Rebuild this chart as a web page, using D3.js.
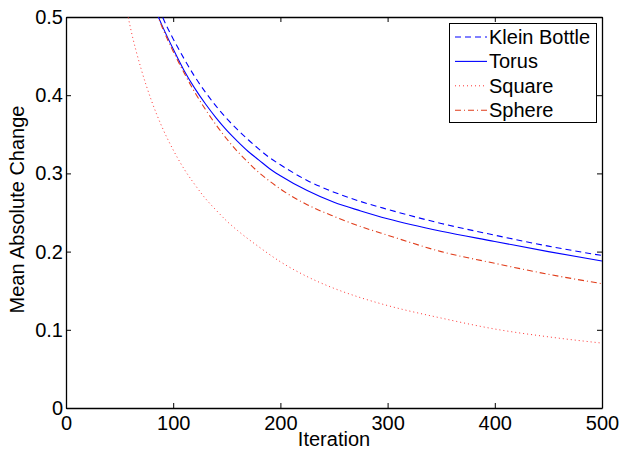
<!DOCTYPE html>
<html>
<head>
<meta charset="utf-8">
<script src="https://cdn.jsdelivr.net/npm/d3@7/dist/d3.min.js"></script>
<style>
  html, body { margin: 0; padding: 0; background: #fff; }
  svg { display: block; }
  text { font-family: "Liberation Sans", Arial, sans-serif; }
</style>
</head>
<body>
<svg id="chart" width="621" height="450"></svg>
<script>
// ---- Data ----
const kleinIter  = [80, 90, 100, 110, 120, 130, 140, 150, 160, 170, 180, 190, 200, 225, 250, 275, 300, 350, 400, 450, 500];
const kleinVal   = [0.535, 0.5, 0.472, 0.447, 0.424, 0.404, 0.386, 0.37, 0.356, 0.343, 0.331, 0.32, 0.311, 0.291, 0.276, 0.264, 0.254, 0.236, 0.221, 0.207, 0.195];

const torusIter  = [80, 90, 100, 110, 120, 130, 140, 150, 160, 170, 180, 190, 200, 225, 250, 275, 300, 350, 400, 450, 500];
const torusVal   = [0.52, 0.488, 0.459, 0.432, 0.409, 0.389, 0.371, 0.355, 0.341, 0.328, 0.317, 0.306, 0.297, 0.278, 0.263, 0.252, 0.242, 0.226, 0.213, 0.2, 0.188];

const squareIter = [50, 60, 70, 80, 90, 100, 110, 120, 130, 140, 150, 160, 180, 200, 225, 250, 275, 300, 350, 400, 450, 500];
const squareVal  = [0.56, 0.487, 0.434, 0.392, 0.358, 0.33, 0.306, 0.286, 0.268, 0.253, 0.239, 0.227, 0.206, 0.187, 0.168, 0.153, 0.141, 0.131, 0.115, 0.101, 0.091, 0.083];

const sphereIter = [80, 90, 100, 110, 120, 130, 140, 150, 160, 170, 180, 190, 200, 225, 250, 275, 300, 350, 400, 450, 500];
const sphereVal  = [0.523, 0.486, 0.456, 0.429, 0.404, 0.382, 0.362, 0.344, 0.328, 0.314, 0.301, 0.29, 0.28, 0.26, 0.245, 0.232, 0.221, 0.2, 0.185, 0.171, 0.159];

const seriesNames = ["Klein Bottle", "Torus", "Square", "Sphere"];
const xTicks = [0, 100, 200, 300, 400, 500];
const xTickLabels = ["0", "100", "200", "300", "400", "500"];
const yTicks = [0, 0.1, 0.2, 0.3, 0.4, 0.5];
const yTickLabels = ["0", "0.1", "0.2", "0.3", "0.4", "0.5"];
const xLabel = "Iteration";
const yLabel = "Mean Absolute Change";

// ---- Styles ----
const styles = [
  { color: "#0000ff", dash: "6,4",       width: 1.1 },
  { color: "#0000ff", dash: null,        width: 1.1 },
  { color: "#ff3333", dash: "1,3",       width: 1.0 },
  { color: "#e03c1a", dash: "6,3,1,3",   width: 1.1 }
];

const seriesData = [
  kleinIter.map((d, i) => [d, kleinVal[i]]),
  torusIter.map((d, i) => [d, torusVal[i]]),
  squareIter.map((d, i) => [d, squareVal[i]]),
  sphereIter.map((d, i) => [d, sphereVal[i]])
];

const svg = d3.select("#chart");
const L = 66, R = 602, T = 17, B = 408;
const x = d3.scaleLinear().domain([0, 500]).range([L, R]);
const y = d3.scaleLinear().domain([0, 0.5]).range([B, T]);
const FS = "20px";

svg.append("defs").append("clipPath").attr("id", "clip")
  .append("rect").attr("x", L).attr("y", T).attr("width", R - L).attr("height", B - T);

// Axes
const axB = svg.append("g").attr("transform", `translate(0,${B})`)
  .call(d3.axisBottom(x).tickValues(xTicks).tickFormat((d, i) => xTickLabels[i])
    .tickSizeInner(-5).tickSizeOuter(0).tickPadding(8));
const axT = svg.append("g").attr("transform", `translate(0,${T})`)
  .call(d3.axisTop(x).tickValues(xTicks).tickFormat("").tickSizeInner(-5).tickSizeOuter(0));
const axLft = svg.append("g").attr("transform", `translate(${L},0)`)
  .call(d3.axisLeft(y).tickValues(yTicks).tickFormat((d, i) => yTickLabels[i])
    .tickSizeInner(-5).tickSizeOuter(0).tickPadding(3));
const axRt = svg.append("g").attr("transform", `translate(${R},0)`)
  .call(d3.axisRight(y).tickValues(yTicks).tickFormat("").tickSizeInner(-5).tickSizeOuter(0));

[axB, axT, axLft, axRt].forEach(g => {
  g.selectAll("path.domain").attr("stroke", "#000").attr("stroke-width", 1.3);
  g.selectAll(".tick line").attr("stroke", "#000").attr("stroke-width", 1);
  g.selectAll("text").attr("fill", "#000").style("font-size", FS)
    .style("font-family", '"Liberation Sans", Arial, sans-serif');
});

// Lines
const line = d3.line().x(d => x(d[0])).y(d => y(d[1])).curve(d3.curveMonotoneX);
const plot = svg.append("g").attr("clip-path", "url(#clip)");
seriesData.forEach((data, i) => {
  plot.append("path").datum(data)
    .attr("d", line)
    .attr("fill", "none")
    .attr("stroke", styles[i].color)
    .attr("stroke-width", styles[i].width)
    .attr("stroke-dasharray", styles[i].dash);
});

// Axis labels
svg.append("text").attr("x", (L + R) / 2).attr("y", 446)
  .attr("text-anchor", "middle").style("font-size", FS).text(xLabel);
svg.append("text").attr("transform", `translate(24,${(T + B) / 2 - 3}) rotate(-90)`)
  .attr("text-anchor", "middle").style("font-size", FS).text(yLabel);

// Legend
const lg = svg.append("g");
lg.append("rect").attr("x", 449.5).attr("y", 23.5).attr("width", 147).attr("height", 99)
  .attr("fill", "#fff").attr("stroke", "#000").attr("stroke-width", 1);
seriesNames.forEach((name, i) => {
  const cy = 37 + i * 24.4;
  lg.append("line").attr("x1", 455).attr("x2", 487).attr("y1", cy).attr("y2", cy)
    .attr("stroke", styles[i].color).attr("stroke-width", styles[i].width)
    .attr("stroke-dasharray", styles[i].dash);
  lg.append("text").attr("x", 489).attr("y", cy).attr("dy", "0.35em")
    .style("font-size", FS).text(name);
});
</script>
</body>
</html>
